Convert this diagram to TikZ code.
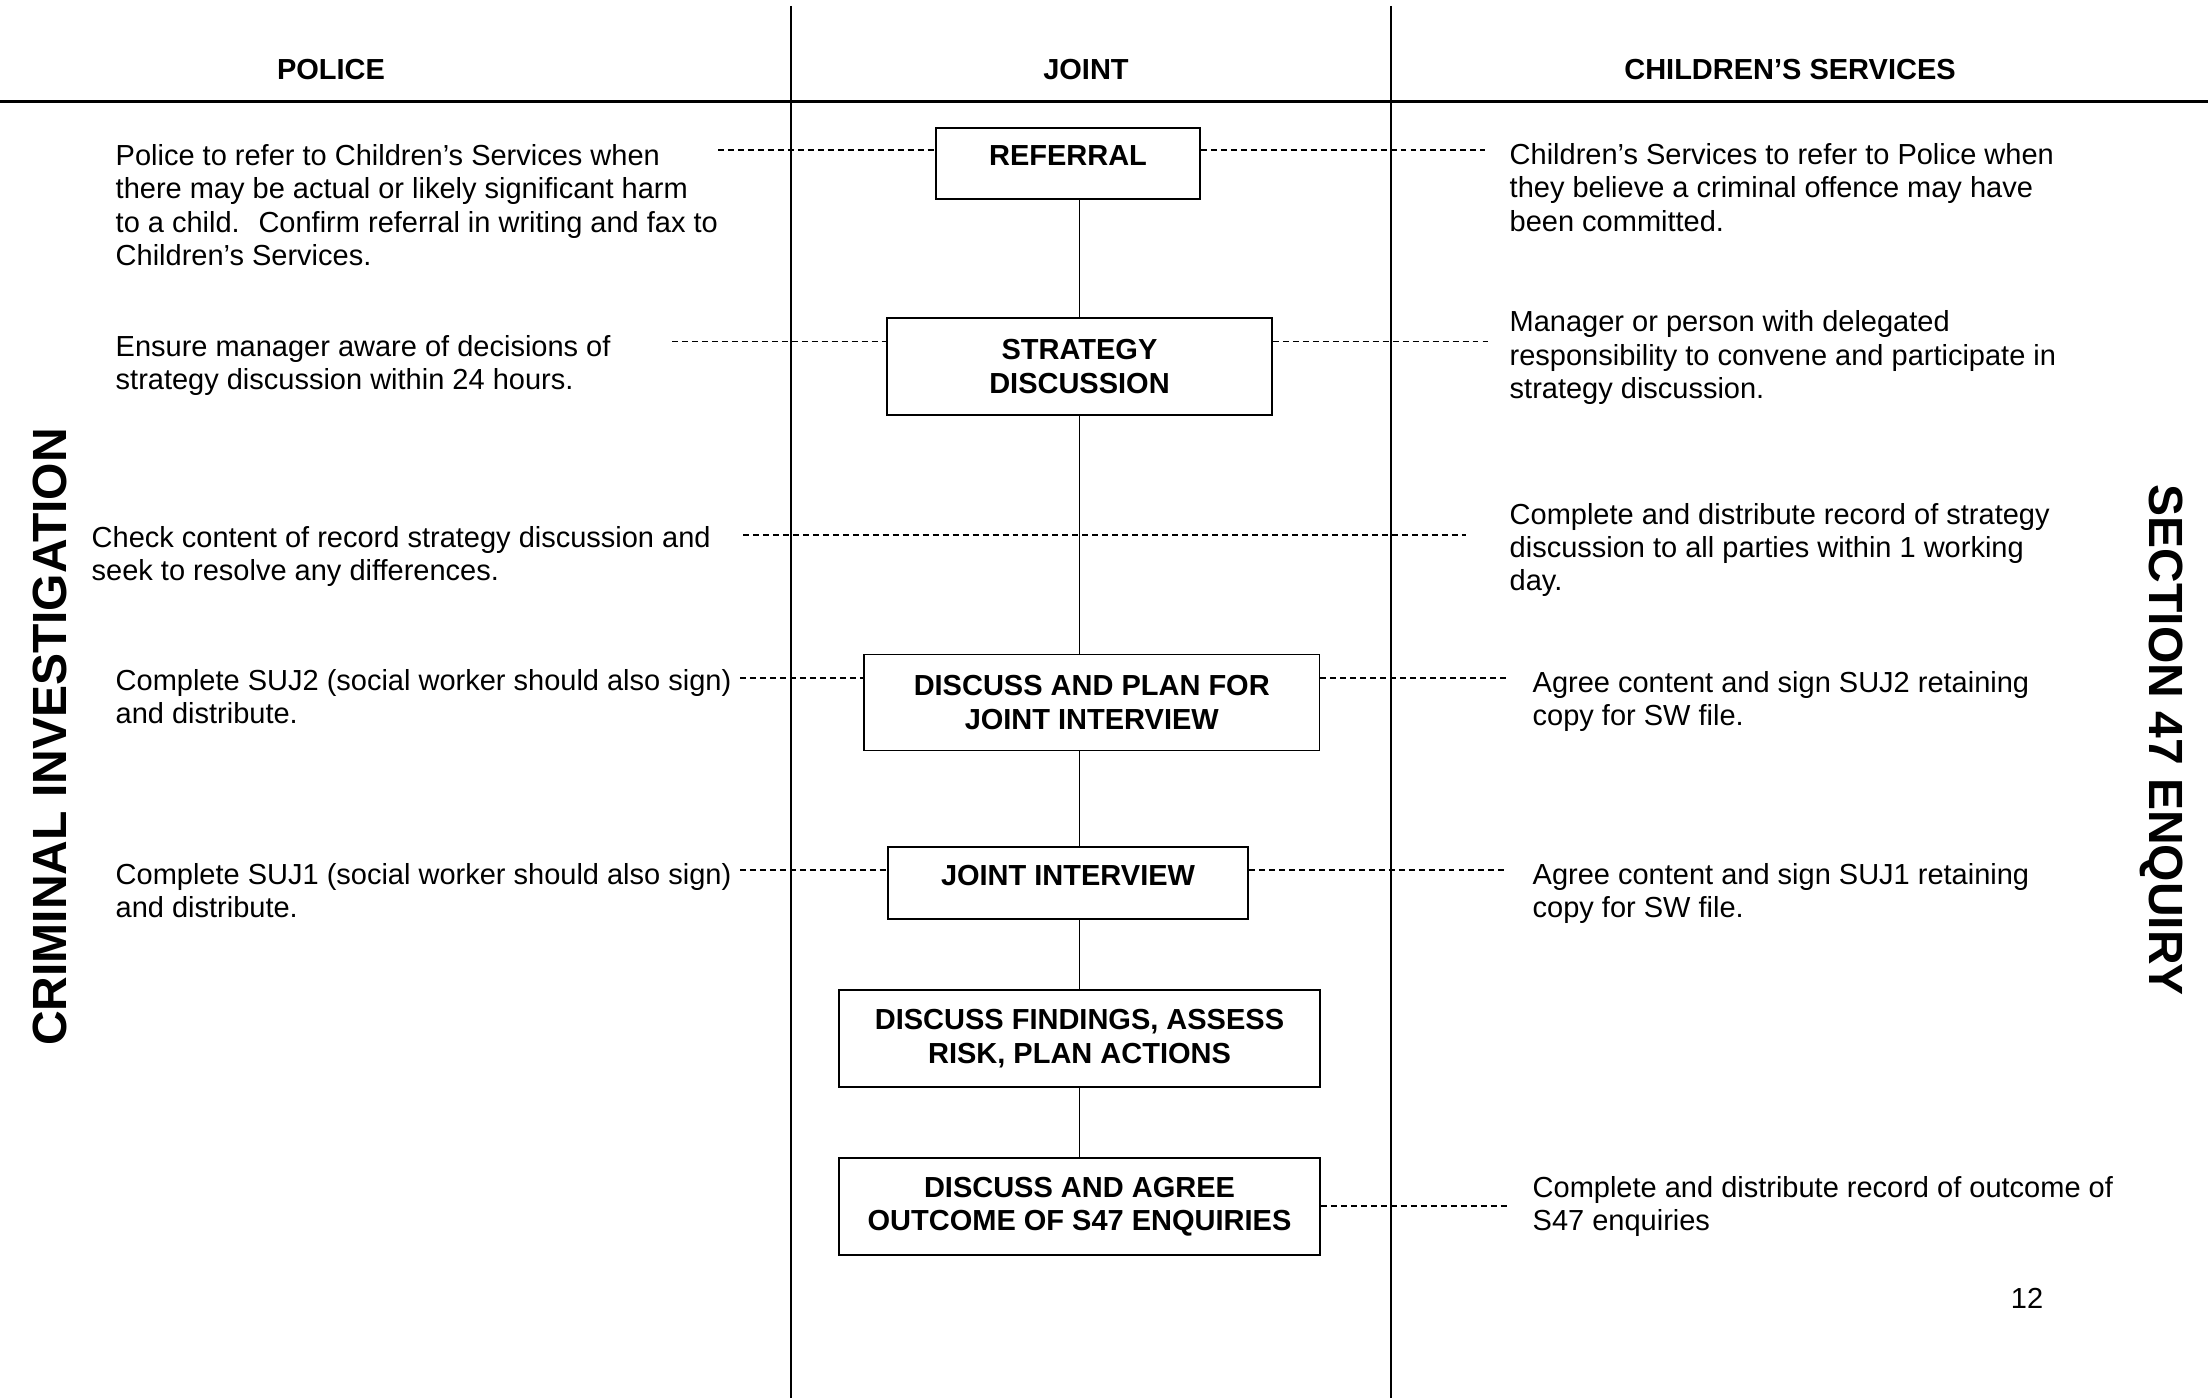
\documentclass[tikz,border=0pt]{standalone}
\usepackage{fontspec}
\setmainfont{Liberation Sans}
\begin{document}
\begin{tikzpicture}[
    every node/.style={font=\fontsize{8.25}{9.53}\selectfont, inner sep=0pt},
    head/.style={anchor=base, font=\fontsize{8.25}{9.53}\selectfont\bfseries},
    note/.style={anchor=base west, align=left},
    stage/.style={draw, line width=0.5pt, align=center, font=\fontsize{8.25}{9.53}\selectfont\bfseries},
    single/.style={stage, anchor=north, text height=0.38cm, text depth=0.335cm},
    side/.style={font=\fontsize{13.66}{16}\selectfont\bfseries},
    link/.style={line width=0.4pt, dash pattern=on 1.7pt off 1.14pt}]
    \useasboundingbox (0,0) rectangle (22.08,-13.98);
    % lanes
    \draw[line width=0.4pt] (7.91,-0.06) -- (7.91,-13.98);
    \draw[line width=0.4pt] (13.91,-0.06) -- (13.91,-13.98);
    \draw[line width=0.6pt] (0,-1.015) -- (22.08,-1.015);
    \node[head] (hpol)   at (3.31,-0.80)  {POLICE};
    \node[head] (hjoint) at (10.86,-0.80) {JOINT};
    \node[head] (hcs)    at (17.90,-0.80) {CHILDREN’S SERVICES};
    % joint stages
    \node[single, minimum width=2.64cm] (ref) at (10.68,-1.27) {REFERRAL};
    \node[stage, minimum width=3.85cm, minimum height=0.97cm] (strat) at (10.795,-3.665) {STRATEGY\\DISCUSSION};
    \node[stage, minimum width=4.555cm, minimum height=0.96cm] (plan) at (10.9175,-7.025) {DISCUSS AND PLAN FOR\\JOINT INTERVIEW};
    \node[single, minimum width=3.60cm] (jint) at (10.68,-8.465) {JOINT INTERVIEW};
    \node[stage, minimum width=4.81cm, minimum height=0.97cm] (find) at (10.795,-10.385) {DISCUSS FINDINGS, ASSESS\\RISK, PLAN ACTIONS};
    \node[stage, minimum width=4.81cm, minimum height=0.97cm] (agree) at (10.795,-12.065) {DISCUSS AND AGREE\\OUTCOME OF S47 ENQUIRIES};
    \draw[line width=0.4pt] (ref.south -| strat.north) -- (strat.north);
    \draw[line width=0.4pt] (strat.south) -- (strat.south |- plan.north);
    \draw[line width=0.4pt] (strat.south |- plan.south) -- (strat.south |- jint.north);
    \draw[line width=0.4pt] (strat.south |- jint.south) -- (find.north);
    \draw[line width=0.4pt] (find.south) -- (agree.north);
    % police side (anchored on the last line)
    \node[note] (pol1) at (1.15,-2.655) {Police to refer to Children’s Services when\\there may be actual or likely significant harm\\to a child.~ Confirm referral in writing and fax to\\Children’s Services.};
    \node[note] (pol2) at (1.15,-3.895) {Ensure manager aware of decisions of\\strategy discussion within 24 hours.};
    \node[note] (pol3) at (0.91,-5.805) {Check content of record strategy discussion and\\seek to resolve any differences.};
    \node[note] (pol4) at (1.15,-7.235) {Complete SUJ2 (social worker should also sign)\\and distribute.};
    \node[note] (pol5) at (1.15,-9.175) {Complete SUJ1 (social worker should also sign)\\and distribute.};
    % children's services side
    \node[note] (cs1) at (15.09,-2.315) {Children’s Services to refer to Police when\\they believe a criminal offence may have\\been committed.};
    \node[note] (cs2) at (15.09,-3.985) {Manager or person with delegated\\responsibility to convene and participate in\\strategy discussion.};
    \node[note] (cs3) at (15.09,-5.91) {Complete and distribute record of strategy\\discussion to all parties within 1 working\\day.};
    \node[note] (cs4) at (15.32,-7.255) {Agree content and sign SUJ2 retaining\\copy for SW file.};
    \node[note] (cs5) at (15.32,-9.175) {Agree content and sign SUJ1 retaining\\copy for SW file.};
    \node[note] (cs6) at (15.32,-12.305) {Complete and distribute record of outcome of\\S47 enquiries};
    % dashed ties
    \coordinate (l1) at (7.18,-1.50);
    \coordinate (r1) at (14.85,-1.50);
    \coordinate (l2) at (6.72,-3.415);
    \coordinate (r2) at (14.90,-3.415);
    \coordinate (l3) at (7.43,-5.35);
    \coordinate (r3) at (14.66,-5.35);
    \coordinate (l4) at (7.40,-6.78);
    \coordinate (r4) at (15.06,-6.78);
    \coordinate (l5) at (7.40,-8.70);
    \coordinate (r5) at (15.06,-8.70);
    \coordinate (r6) at (15.08,-12.06);
    \draw[link] (l1) -- (l1 -| ref.west);
    \draw[link] (ref.east |- r1) -- (r1);
    \draw[link] (l2) -- (l2 -| strat.west);
    \draw[link] (strat.east |- r2) -- (r2);
    \draw[link] (l3) -- (r3);
    \draw[link] (l4) -- (l4 -| plan.west);
    \draw[link] (plan.east |- r4) -- (r4);
    \draw[link] (l5) -- (l5 -| jint.west);
    \draw[link] (jint.east |- r5) -- (r5);
    \draw[link] (agree.east |- r6) -- (r6);
    % side titles
    \node[side, rotate=90]  (crim) at (0.495,-7.37) {CRIMINAL INVESTIGATION};
    \node[side, rotate=-90] (sec)  at (21.62,-7.40) {SECTION 47 ENQUIRY};
    \node[anchor=base] (pg) at (20.27,-13.08) {12};
\end{tikzpicture}
\end{document}
